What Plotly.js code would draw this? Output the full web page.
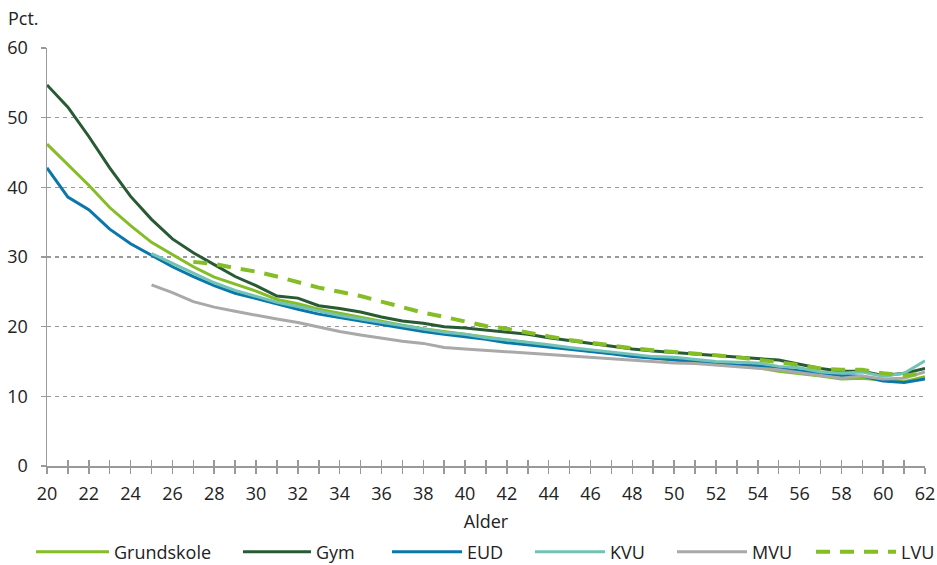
<!DOCTYPE html>
<html>
<head>
<meta charset="utf-8">
<script src="https://cdn.plot.ly/plotly-3.0.1.min.js"></script>
<style>html,body{margin:0;padding:0;background:#fff;}#chart{width:937px;height:565px;}</style>
</head>
<body>
<div id="chart"></div>
<script>
const ages = [20,21,22,23,24,25,26,27,28,29,30,31,32,33,34,35,36,37,38,39,40,41,42,43,44,45,46,47,48,49,50,51,52,53,54,55,56,57,58,59,60,61,62];
const agesFrom25 = ages.slice(5);
const agesFrom27 = ages.slice(7);

const grundskole = [46.2,43.3,40.3,37.1,34.5,32.1,30.3,28.6,27.1,26.1,25.1,23.9,23.3,22.5,21.9,21.4,20.8,20.2,19.7,19.3,18.8,18.4,18.0,17.7,17.3,16.9,16.5,16.2,15.8,15.5,15.2,14.9,14.6,14.3,14.1,13.6,13.3,12.9,12.5,12.6,12.3,12.1,12.8];
const gym = [54.7,51.5,47.3,42.8,38.7,35.4,32.6,30.6,28.9,27.2,25.9,24.4,24.1,23.0,22.6,22.1,21.4,20.8,20.5,20.0,19.8,19.5,19.3,18.9,18.4,18.0,17.6,17.1,16.8,16.5,16.3,16.0,15.9,15.6,15.5,15.2,14.6,14.0,13.6,13.6,13.0,13.3,14.0];
const eud = [42.8,38.6,36.8,34.0,31.9,30.3,28.6,27.2,25.9,24.8,24.0,23.2,22.5,21.8,21.3,20.8,20.2,19.8,19.3,18.9,18.6,18.2,17.7,17.4,17.1,16.7,16.4,16.1,15.7,15.5,15.3,15.0,14.8,14.5,14.4,14.0,13.7,13.4,13.0,12.9,12.2,12.0,12.5];
const kvu = [30.5,29.1,27.6,26.3,25.2,24.4,23.5,22.9,22.2,21.6,21.1,20.6,20.1,19.6,19.2,18.9,18.4,18.1,17.8,17.4,17.0,16.7,16.4,16.0,15.7,15.6,15.3,15.0,14.9,14.8,14.3,14.1,13.5,13.3,13.5,12.9,13.3,15.1];
const mvu = [26.0,24.9,23.6,22.8,22.2,21.6,21.1,20.6,19.9,19.3,18.8,18.3,17.9,17.6,17.0,16.8,16.6,16.3,16.1,15.9,15.7,15.5,15.4,15.2,15.0,14.8,14.7,14.5,14.3,14.1,13.8,13.4,13.0,12.6,12.9,12.5,12.6,13.5];
const lvu = [29.3,29.0,28.4,27.9,27.2,26.4,25.6,25.0,24.4,23.6,22.8,22.0,21.4,20.7,20.1,19.7,19.1,18.6,18.1,17.7,17.2,16.9,16.6,16.4,16.1,15.9,15.6,15.3,14.9,14.5,14.0,13.8,13.8,13.3,13.0,13.3];

const xTickVals = [20,22,24,26,28,30,32,34,36,38,40,42,44,46,48,50,52,54,56,58,60,62];
const yTickVals = [0,10,20,30,40,50,60];

const FONT = '"Open Sans", "Noto Sans", sans-serif';
const FS = 18;
function line(name, x, y, color, legendId, dash) {
  return {type:'scatter', mode:'lines', name:name, x:x, y:y, legend:legendId,
    line:{color:color, width: dash ? 4 : 3, dash: dash || 'solid'}, hoverinfo:'skip'};
}

const traces = [
  line('Grundskole', ages, grundskole, '#84bd25', 'legend'),
  line('Gym', ages, gym, '#285a33', 'legend2'),
  line('EUD', ages, eud, '#0a77aa', 'legend3'),
  line('KVU', agesFrom25, kvu, '#72c3b6', 'legend4'),
  line('MVU', agesFrom25, mvu, '#a9a9a9', 'legend5'),
  line('LVU', agesFrom27, lvu, '#84bd25', 'legend6', '14px,10px'),
  {type:'scatter', mode:'lines', x:[20,62], y:[null,null], xaxis:'x2', yaxis:'y', showlegend:false, hoverinfo:'skip'}
];

function leg(xpx, w) {
  return {orientation:'h', x:xpx/937, xref:'container', xanchor:'left', y:13/565, yref:'container', yanchor:'middle',
    font:{family:FONT, size:FS, color:'#222'}, itemwidth:w || 70, bgcolor:'rgba(0,0,0,0)'};
}

const layout = {
  width:937, height:565,
  margin:{l:47, r:12, t:48, b:99},
  paper_bgcolor:'#fff', plot_bgcolor:'#fff',
  font:{family:FONT, size:FS, color:'#222'},
  showlegend:true,
  legend:leg(31, 73), legend2:leg(238, 68), legend3:leg(387, 70),
  legend4:leg(530, 70), legend5:leg(672, 70), legend6:leg(811, 80),
  xaxis:{range:[20,62], tickvals:xTickVals, ticktext:xTickVals.map(String), automargin:false,
    showgrid:false, zeroline:false, showline:true, linecolor:'#999', linewidth:1.5,
    ticks:'outside', ticklen:6, tickcolor:'#999', tickwidth:1.5,
    minor:{dtick:1, tick0:20, ticks:'outside', ticklen:6, tickcolor:'#999', tickwidth:1.5},
    ticklabelstandoff:5,
    tickfont:{family:FONT, size:FS, color:'#222'},
    title:{text:'Alder', font:{family:FONT, size:FS, color:'#222'}, standoff:18}},
  xaxis2:{range:[20,62], overlaying:'x', anchor:'y', side:'bottom', showgrid:false, zeroline:false, automargin:false,
    showline:false, showticklabels:false, dtick:1, tick0:20, ticks:'inside', ticklen:6, tickcolor:'#999', tickwidth:1.5},
  yaxis:{range:[0,60], tickvals:yTickVals, showgrid:true, gridcolor:'#999', griddash:'4px,4px', gridwidth:1.2,
    zeroline:false, showline:true, linecolor:'#999', linewidth:1.5, automargin:false,
    ticks:'outside', ticklen:5, tickcolor:'#999', tickwidth:1.2, ticklabelstandoff:9,
    tickfont:{family:FONT, size:FS, color:'#222'}},
  annotations:[{text:'Pct.', xref:'paper', yref:'paper', x:-0.047, y:1.072, xanchor:'left', yanchor:'middle',
    showarrow:false, font:{family:FONT, size:FS, color:'#222'}}]
};

Plotly.newPlot('chart', traces, layout, {displayModeBar:false, staticPlot:true});
</script>
</body>
</html>
